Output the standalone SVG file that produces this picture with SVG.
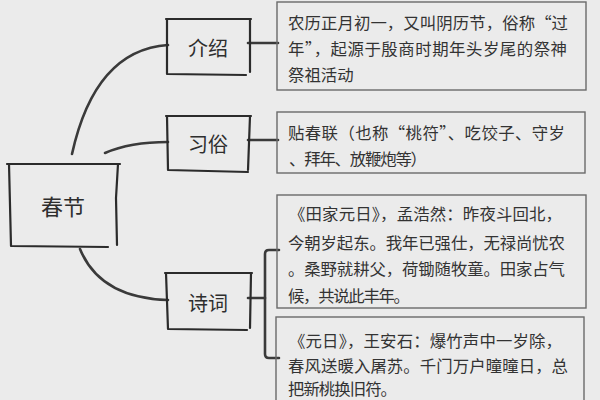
<svg xmlns="http://www.w3.org/2000/svg" width="600" height="400" viewBox="0 0 600 400">
<style>
.bg{fill:#ebebeb}
.node{fill:none;stroke:#2b2b2b;stroke-width:2.2;stroke-linecap:round;stroke-linejoin:round}
.tbox{fill:none;stroke:#6a6a6a;stroke-width:1.4}
.conn{fill:none;stroke:#3a3a3a;stroke-width:2.6;stroke-linecap:round}
.lbl{font-family:"Noto Sans CJK SC","Noto Sans",sans-serif;fill:#2e2e2e;text-anchor:middle;dominant-baseline:central}
.txt{font-family:"Noto Sans CJK SC","Noto Sans",sans-serif;fill:#333;font-size:16.4px;dominant-baseline:central}
</style>
<rect class="bg" x="0" y="0" width="600" height="400"/>
<g id="connectors">
<path class="conn" d="M72,154 Q95,50 168,45"/>
<path class="conn" d="M105,153 Q130,142 168,142"/>
<path class="conn" d="M80,249 Q100,298 168,300"/>
<path class="conn" d="M248,43 L278,43"/>
<path class="conn" d="M248,140 L278,140"/>
<path class="conn" d="M248,298 L265,298"/>
<path class="conn" d="M279,250 L269,250 Q265,250 265,254 L265,354 Q265,358 269,358 L279,358"/>
</g>
<g id="n-chunjie">
<path class="node" d="M7,164 L120,164 M9,164 L11,246 M11,246 L108,247 M118,164 L116,198 L117,245"/>
<text class="lbl" x="63" y="205" font-size="22">春节</text>
</g>
<g id="n-jieshao">
<path class="node" d="M166,19 L251,19 M167,19 L167,74 L246,75 M250,19 L250,72"/>
<text class="lbl" x="208" y="47" font-size="20">介绍</text>
</g>
<g id="n-xisu">
<path class="node" d="M166,116 L251,116 M167,116 L168,170 L248,172 M250,116 L248,170"/>
<text class="lbl" x="208" y="143" font-size="20">习俗</text>
</g>
<g id="n-shici">
<path class="node" d="M165,273 L252,273 M166,273 L168,329 L247,330 M251,273 L250,328"/>
<text class="lbl" x="208" y="302" font-size="20">诗词</text>
</g>
<g id="t-jieshao">
<rect class="tbox" x="277" y="2" width="309" height="88"/>
<text class="txt"><tspan x="288" y="22" textLength="280" lengthAdjust="spacing">农历正月初一，又叫阴历节，俗称“过</tspan><tspan x="288" y="48" textLength="279" lengthAdjust="spacing">年”，起源于殷商时期年头岁尾的祭神</tspan><tspan x="288" y="74">祭祖活动</tspan></text>
</g>
<g id="t-xisu">
<rect class="tbox" x="277" y="112" width="308" height="61"/>
<text class="txt"><tspan x="288" y="132" textLength="277" lengthAdjust="spacing">贴春联（也称“桃符”、吃饺子、守岁</tspan><tspan x="289" y="158" textLength="138" lengthAdjust="spacing">、拜年、放鞭炮等）</tspan></text>
</g>
<g id="t-shici1">
<rect class="tbox" x="277" y="195" width="309" height="113"/>
<text class="txt"><tspan x="289" y="213" textLength="273" lengthAdjust="spacing">《田家元日》，孟浩然：昨夜斗回北，</tspan><tspan x="288" y="242" textLength="277" lengthAdjust="spacing">今朝岁起东。我年已强仕，无禄尚忧农</tspan><tspan x="288" y="268" textLength="277" lengthAdjust="spacing">。桑野就耕父，荷锄随牧童。田家占气</tspan><tspan x="288" y="295" textLength="122" lengthAdjust="spacing">候，共说此丰年。</tspan></text>
</g>
<g id="t-shici2">
<rect class="tbox" x="276" y="317" width="308" height="90"/>
<text class="txt"><tspan x="289" y="340" textLength="273" lengthAdjust="spacing">《元日》，王安石：爆竹声中一岁除，</tspan><tspan x="288" y="365" textLength="280" lengthAdjust="spacing">春风送暖入屠苏。千门万户曈曈日，总</tspan><tspan x="288" y="388" textLength="109" lengthAdjust="spacing">把新桃换旧符。</tspan></text>
</g>
</svg>
